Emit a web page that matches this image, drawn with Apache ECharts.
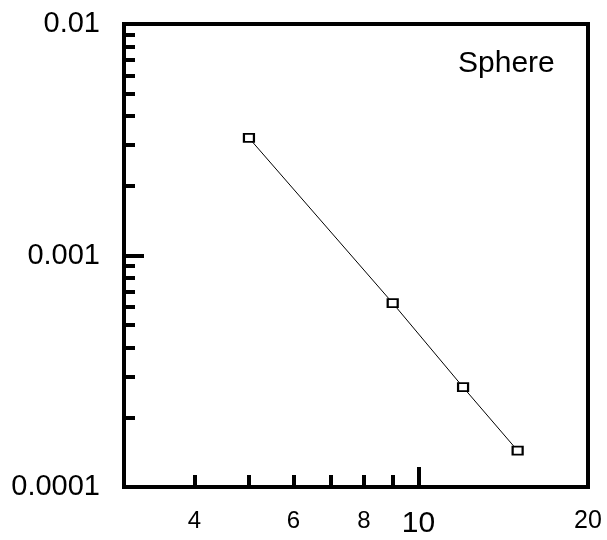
<!DOCTYPE html>
<html>
<head>
<meta charset="utf-8">
<script src="https://cdn.jsdelivr.net/npm/echarts@6/dist/echarts.min.js"></script>
<style>
  html, body { margin: 0; padding: 0; background: #fff; }
  #chart { width: 607px; height: 540px; }
</style>
</head>
<body>
<div id="chart"></div>
<script>
// data
var xValues = [5, 9, 12, 15]
var yValues = [0.00322, 0.000623, 0.000270, 0.0001435]

// axes
var xMin = 3
var xMax = 20
var xMinorTicks = [4, 5, 6, 7, 8, 9]
var xMajorTicks = [10]
var xTickLabels = [4, 6, 8, 10, 20]

var yMin = 0.0001
var yMax = 0.01
var yMinorTicks = [0.0002, 0.0003, 0.0004, 0.0005, 0.0006, 0.0007, 0.0008, 0.0009,
                   0.002, 0.003, 0.004, 0.005, 0.006, 0.007, 0.008, 0.009]
var yMajorTicks = [0.001]
var yTickLabels = [0.0001, 0.001, 0.01]

var FONT = 'Liberation Sans, Arial, sans-serif'

var points = []
for (var i = 0; i < xValues.length; i++) {
    points.push([xValues[i], yValues[i]])
}

var xLabelFormatter = function (v) {
    var n = Math.round(v)
    if (n == 10) return '{big|10}'
    if (n == 20) return '{mid|20}'
    return '{small|' + n + '}'
}

var yLabelFormatter = function (v) {
    return String(Number(v.toPrecision(3)))
}

var tickStyle = { color: '#000', width: 4 }

var option = {
    animation: false,
    backgroundColor: '#fff',
    grid: {
        left: 124, right: 19, top: 24, bottom: 53,
        show: true,
        borderColor: '#000',
        borderWidth: 4,
        containLabel: false,
        outerBoundsMode: 'none'
    },
    xAxis: [
        {
            type: 'log', logBase: 10, min: xMin, max: xMax,
            position: 'bottom',
            axisLine: { show: false },
            splitLine: { show: false },
            axisTick: { show: true, inside: true, length: 12, lineStyle: tickStyle, customValues: xMinorTicks },
            axisLabel: {
                show: true, margin: 22, customValues: xTickLabels,
                formatter: xLabelFormatter,
                fontSize: 24, fontFamily: FONT, color: '#000',
                rich: {
                    small: { fontSize: 24, fontFamily: FONT, color: '#000' },
                    mid: { fontSize: 25, fontFamily: FONT, color: '#000' },
                    big: { fontSize: 30, fontFamily: FONT, color: '#000' }
                }
            }
        },
        {
            type: 'log', logBase: 10, min: xMin, max: xMax,
            position: 'bottom',
            axisLine: { show: false },
            splitLine: { show: false },
            axisTick: { show: true, inside: true, length: 20, lineStyle: tickStyle, customValues: xMajorTicks },
            axisLabel: { show: false }
        }
    ],
    yAxis: [
        {
            type: 'log', logBase: 10, min: yMin, max: yMax,
            position: 'left',
            axisLine: { show: false },
            splitLine: { show: false },
            axisTick: { show: true, inside: true, length: 11, lineStyle: tickStyle, customValues: yMinorTicks },
            axisLabel: {
                show: true, margin: 24, customValues: yTickLabels,
                formatter: yLabelFormatter,
                fontSize: 29, fontFamily: FONT, color: '#000'
            }
        },
        {
            type: 'log', logBase: 10, min: yMin, max: yMax,
            position: 'left',
            axisLine: { show: false },
            splitLine: { show: false },
            axisTick: { show: true, inside: true, length: 20, lineStyle: tickStyle, customValues: yMajorTicks },
            axisLabel: { show: false }
        }
    ],
    graphic: [
        {
            type: 'text',
            left: 458, top: 49,
            style: { text: 'Sphere', fontSize: 30, fontFamily: FONT, fill: '#000' }
        }
    ],
    series: [
        {
            type: 'line',
            xAxisIndex: 0,
            yAxisIndex: 0,
            data: points,
            symbol: 'rect',
            symbolSize: [10, 8],
            showSymbol: true,
            lineStyle: { color: '#000', width: 1 },
            itemStyle: { color: '#fff', borderColor: '#000', borderWidth: 2 }
        }
    ]
}

echarts.init(document.getElementById('chart'), null, { renderer: 'canvas' }).setOption(option)
</script>
</body>
</html>
